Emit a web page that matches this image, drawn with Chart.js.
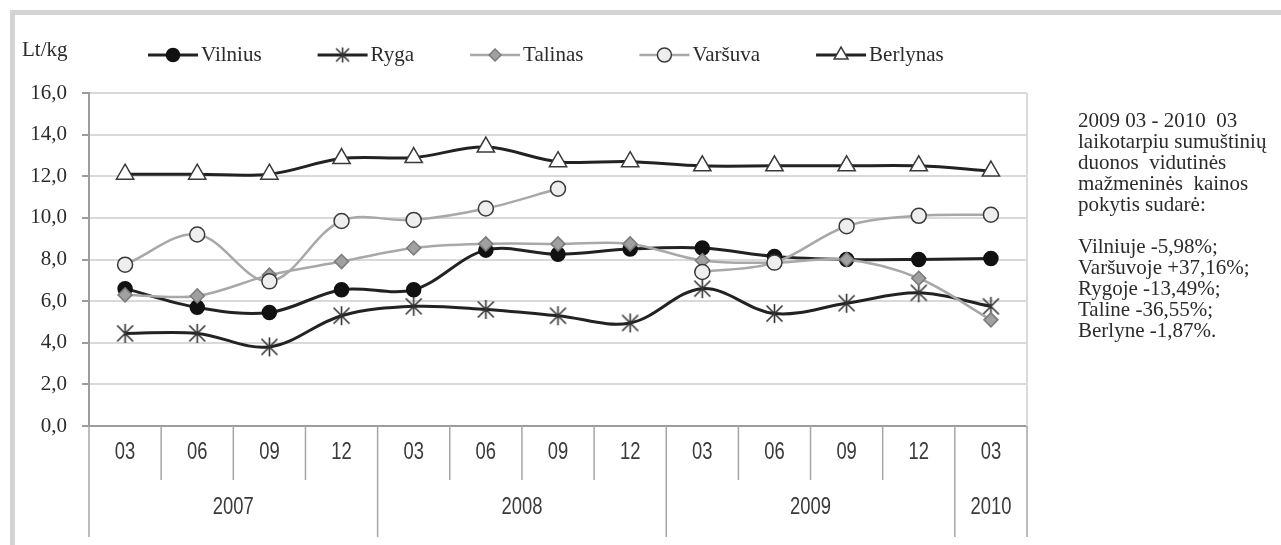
<!DOCTYPE html>
<html>
<head>
<meta charset="utf-8">
<script src="https://cdn.jsdelivr.net/npm/chart.js@4.4.1/dist/chart.umd.min.js"></script>
<style>
  body { margin: 0; background: #fff; }
  canvas { display: block; }
</style>
</head>
<body>
<canvas id="breadChart" width="1281" height="545"></canvas>
<script>
const months = ['03', '06', '09', '12', '03', '06', '09', '12', '03', '06', '09', '12', '03'];
const years = ['2007', '2007', '2007', '2007', '2008', '2008', '2008', '2008', '2009', '2009', '2009', '2009', '2010'];
const yTicks = [0, 2, 4, 6, 8, 10, 12, 14, 16];

const vilnius = [6.6, 5.7, 5.45, 6.55, 6.55, 8.45, 8.25, 8.5, 8.55, 8.15, 8.0, 8.0, 8.05];
const ryga = [4.45, 4.45, 3.8, 5.3, 5.75, 5.6, 5.3, 4.95, 6.6, 5.4, 5.9, 6.4, 5.75];
const talinas = [6.3, 6.25, 7.25, 7.9, 8.55, 8.75, 8.75, 8.75, 7.95, 7.85, 8.0, 7.1, 5.1];
const varsuva = [7.75, 9.2, 6.95, 9.85, 9.9, 10.45, 11.4, null, 7.4, 7.85, 9.6, 10.1, 10.15];
const berlynas = [12.1, 12.1, 12.1, 12.85, 12.9, 13.4, 12.7, 12.7, 12.5, 12.5, 12.5, 12.5, 12.25];

const noteLines = [
  '2009 03 - 2010  03',
  'laikotarpiu sumuštinių',
  'duonos  vidutinės',
  'mažmeninės  kainos',
  'pokytis sudarė:',
  '',
  'Vilniuje -5,98%;',
  'Varšuvoje +37,16%;',
  'Rygoje -13,49%;',
  'Taline -36,55%;',
  'Berlyne -1,87%.'
];

const dark = '#222222';
const gray = '#a8a8a8';
const serif = "'Liberation Serif'";
const sans = "'Liberation Sans'";

// excel-like asterisk marker: vertical bar plus an X
function asterisk(size) {
  const c = document.createElement('canvas');
  c.width = size;
  c.height = size;
  const g = c.getContext('2d');
  const m = size / 2;
  const d = size * 0.38;
  g.strokeStyle = '#333';
  g.lineWidth = 1.6;
  g.beginPath();
  g.moveTo(m, 1); g.lineTo(m, size - 1);
  g.moveTo(m - d, m - d); g.lineTo(m + d, m + d);
  g.moveTo(m + d, m - d); g.lineTo(m - d, m + d);
  g.stroke();
  return c;
}
const starMark = asterisk(21);
const starLegend = asterisk(17);

// legend, axis table, frame and side note
const extras = {
  id: 'extras',
  beforeDraw(chart) {
    const ctx = chart.ctx;
    ctx.save();
    ctx.fillStyle = '#fff';
    ctx.fillRect(0, 0, chart.width, chart.height);
    ctx.fillStyle = '#d3d3d3';
    ctx.fillRect(10, 10, chart.width - 10, 5);
    ctx.fillRect(10, 10, 5, chart.height - 10);
    ctx.restore();
  },
  afterDraw(chart) {
    const ctx = chart.ctx;
    const area = chart.chartArea;
    const x = chart.scales.x;
    const band = (x.getPixelForValue(1) - x.getPixelForValue(0));
    ctx.save();

    // right border of plot
    ctx.strokeStyle = '#d9d9d9';
    ctx.lineWidth = 2;
    ctx.beginPath();
    ctx.moveTo(area.right, area.top);
    ctx.lineTo(area.right, area.bottom);
    ctx.stroke();

    // category table
    ctx.strokeStyle = '#a6a6a6';
    ctx.lineWidth = 1.5;
    ctx.textAlign = 'center';
    ctx.textBaseline = 'middle';
    const narrowText = (t, cx, cy) => {
      ctx.save();
      ctx.translate(cx, cy);
      ctx.scale(0.8, 1);
      ctx.font = '23px ' + sans;
      ctx.fillStyle = '#3a3a3a';
      ctx.fillText(t, 0, 0);
      ctx.restore();
    };
    let groupStart = 0;
    for (let i = 0; i < months.length; i++) {
      const cx = x.getPixelForValue(i);
      narrowText(months[i], cx, area.bottom + 27);
      const rightEdge = cx + band / 2;
      const last = i === months.length - 1;
      const yearEnd = last || years[i + 1] !== years[i];
      ctx.beginPath();
      ctx.moveTo(rightEdge, area.bottom);
      ctx.lineTo(rightEdge, yearEnd ? area.bottom + 111 : area.bottom + 54);
      ctx.stroke();
      if (yearEnd) {
        const left = x.getPixelForValue(groupStart) - band / 2;
        narrowText(years[i], (left + rightEdge) / 2, area.bottom + 82);
        groupStart = i + 1;
      }
    }
    ctx.beginPath();
    ctx.moveTo(area.left, area.bottom);
    ctx.lineTo(area.left, area.bottom + 111);
    ctx.stroke();

    // unit
    ctx.font = '21px ' + serif;
    ctx.textAlign = 'left';
    ctx.fillStyle = '#2b2b2b';
    ctx.fillText('Lt/kg', 22, 50);

    // legend
    let lx = 148;
    const ly = 55;
    chart.data.datasets.forEach((ds) => {
      ctx.strokeStyle = ds.borderColor;
      ctx.lineWidth = ds.borderWidth;
      ctx.beginPath();
      ctx.moveTo(lx, ly);
      ctx.lineTo(lx + 50, ly);
      ctx.stroke();
      ctx.fillStyle = ds.pointBackgroundColor;
      ctx.strokeStyle = ds.pointBorderColor;
      ctx.lineWidth = ds.pointBorderWidth;
      Chart.helpers.drawPoint(ctx, {
        pointStyle: ds.legendStyle || ds.pointStyle,
        radius: ds.legendRadius,
        borderWidth: ds.pointBorderWidth,
        rotation: 0
      }, lx + 25, ly);
      ctx.fillStyle = '#2b2b2b';
      ctx.font = '21px ' + serif;
      ctx.textAlign = 'left';
      ctx.textBaseline = 'middle';
      ctx.fillText(ds.label, lx + 53, ly);
      lx += 53 + ctx.measureText(ds.label).width + 56;
    });

    // side note
    ctx.font = '21px ' + serif;
    ctx.fillStyle = '#2b2b2b';
    noteLines.forEach((t, i) => {
      ctx.fillText(t, 1078, 121 + i * 21);
    });
    ctx.restore();
  }
};

function series(label, data, opts) {
  return Object.assign({
    label: label,
    data: data,
    tension: 0.35,
    spanGaps: false,
    pointBorderWidth: 1.5
  }, opts);
}

new Chart(document.getElementById('breadChart'), {
  type: 'line',
  data: {
    labels: months,
    datasets: [
      series('Vilnius', vilnius, {
        borderColor: dark, borderWidth: 3, order: 5,
        pointStyle: 'circle', pointRadius: 7, legendRadius: 6.5,
        pointBackgroundColor: '#111', pointBorderColor: '#111'
      }),
      series('Ryga', ryga, {
        borderColor: dark, borderWidth: 3, order: 4,
        pointStyle: starMark, legendStyle: starLegend, pointRadius: 10, legendRadius: 8,
        pointBackgroundColor: '#333', pointBorderColor: '#333'
      }),
      series('Talinas', talinas, {
        borderColor: gray, borderWidth: 2.5, order: 3,
        pointStyle: 'rectRot', pointRadius: 7, legendRadius: 6,
        pointBackgroundColor: '#a0a0a0', pointBorderColor: '#7a7a7a'
      }),
      series('Varšuva', varsuva, {
        borderColor: gray, borderWidth: 2.5, order: 2,
        pointStyle: 'circle', pointRadius: 7.5, legendRadius: 7,
        pointBackgroundColor: '#eeeeee', pointBorderColor: '#3a3a3a'
      }),
      series('Berlynas', berlynas, {
        borderColor: dark, borderWidth: 3, order: 1,
        pointStyle: 'triangle', pointRadius: 10, legendRadius: 8,
        pointBackgroundColor: '#ffffff', pointBorderColor: '#3a3a3a'
      })
    ]
  },
  options: {
    responsive: false,
    animation: false,
    events: [],
    layout: { padding: { left: 0, top: 93, right: 254, bottom: 119 } },
    plugins: { legend: { display: false }, tooltip: { enabled: false } },
    scales: {
      x: { type: 'category', offset: true, display: false },
      y: {
        min: 0,
        max: 16,
        afterFit(scale) { scale.width = 89; },
        afterBuildTicks(scale) { scale.ticks = yTicks.map(v => ({ value: v })); },
        ticks: {
          padding: 15,
          color: '#2b2b2b',
          font: { family: serif, size: 21 },
          callback: (v) => v.toFixed(1).replace('.', ',')
        },
        grid: {
          color: (c) => (c.tick && c.tick.value === 0 ? '#9c9c9c' : '#d9d9d9'),
          lineWidth: 2,
          tickLength: 7,
          tickColor: '#9c9c9c'
        },
        border: { color: '#9c9c9c', width: 2 }
      }
    }
  },
  plugins: [extras]
});
</script>
</body>
</html>
